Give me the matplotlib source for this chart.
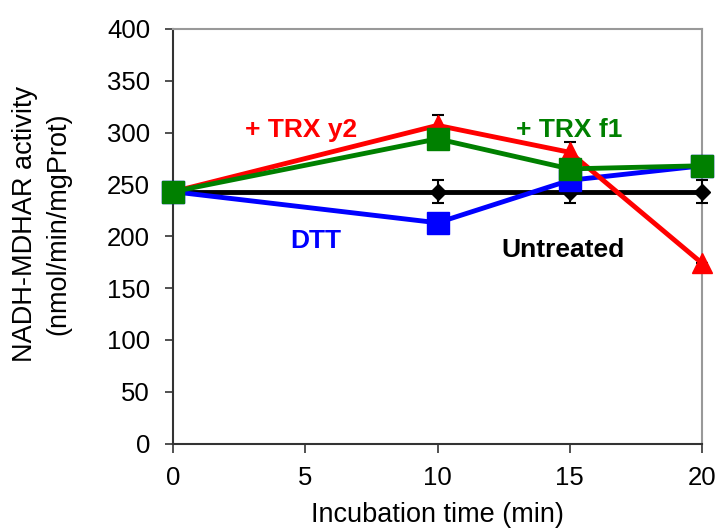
import matplotlib
matplotlib.use('Agg')
import matplotlib.pyplot as plt

plt.rcParams['font.family'] = ['Liberation Sans', 'DejaVu Sans']

TIME = [0, 10, 15, 20]
UNTREATED = [243, 243, 243, 243]
UNTREATED_ERR = [0, 11, 11, 11]
DTT = [243, 213, 254, 268]
TRX_Y2 = [243, 307, 281, 174]
TRX_Y2_ERR = [0, 10, 10, 0]
TRX_F1 = [243, 294, 265, 268]

fig = plt.figure(figsize=(7.19, 5.29), dpi=100)
ax = fig.add_axes([173 / 719, 1 - 443.5 / 529, 529 / 719, 414.5 / 529])

ax.errorbar(TIME, UNTREATED, yerr=UNTREATED_ERR, color='black', lw=3.5, marker='D',
            ms=8.5, ecolor='black', elinewidth=1.5, capsize=4, capthick=1.5, clip_on=False, zorder=3)
ax.plot(TIME, DTT, color='#0000ff', lw=3.5, marker='s', ms=15.5, clip_on=False, zorder=4)
ax.errorbar(TIME, TRX_Y2, yerr=TRX_Y2_ERR, color='#ff0000', lw=3.5, marker='^', ms=14.5,
            ecolor='black', elinewidth=1.5, capsize=4, capthick=1.5, clip_on=False, zorder=5)
ax.plot(TIME, TRX_F1, color='#008000', lw=3.5, marker='s', ms=16, clip_on=False, zorder=6)

ax.text(4.83, 296, '+ TRX y2', color='#ff0000', fontsize=19, fontweight='bold', ha='center', va='baseline')
ax.text(14.96, 296, '+ TRX f1', color='#008000', fontsize=19, fontweight='bold', ha='center', va='baseline')
ax.text(5.4, 188.5, 'DTT', color='#0000ff', fontsize=19, fontweight='bold', ha='center', va='baseline')
ax.text(14.74, 180, 'Untreated', color='black', fontsize=19, fontweight='bold', ha='center', va='baseline')

ax.set_xlim(0, 20)
ax.set_ylim(0, 400)
ax.set_xticks([0, 5, 10, 15, 20])
ax.set_yticks(range(0, 401, 50))
ax.tick_params(labelsize=18.5, direction='out', width=1.2, color='#333333')
ax.tick_params(axis='x', length=6.5, pad=10)
ax.tick_params(axis='y', length=5.5, pad=11)
ax.set_xlabel('Incubation time (min)', fontsize=19.5, labelpad=8)
fig.text(41.5 / 719, 1 - 224 / 529, 'NADH-MDHAR activity\n(nmol/min/mgProt)', fontsize=19.5,
         rotation=90, ha='center', va='center', multialignment='center', linespacing=1.35)
for s in ['left', 'bottom']:
    ax.spines[s].set_color('#333333')
    ax.spines[s].set_linewidth(1.5)
for s in ['top', 'right']:
    ax.spines[s].set_color('#999999')
    ax.spines[s].set_linewidth(1.5)

fig.savefig('out.png', dpi=100)
